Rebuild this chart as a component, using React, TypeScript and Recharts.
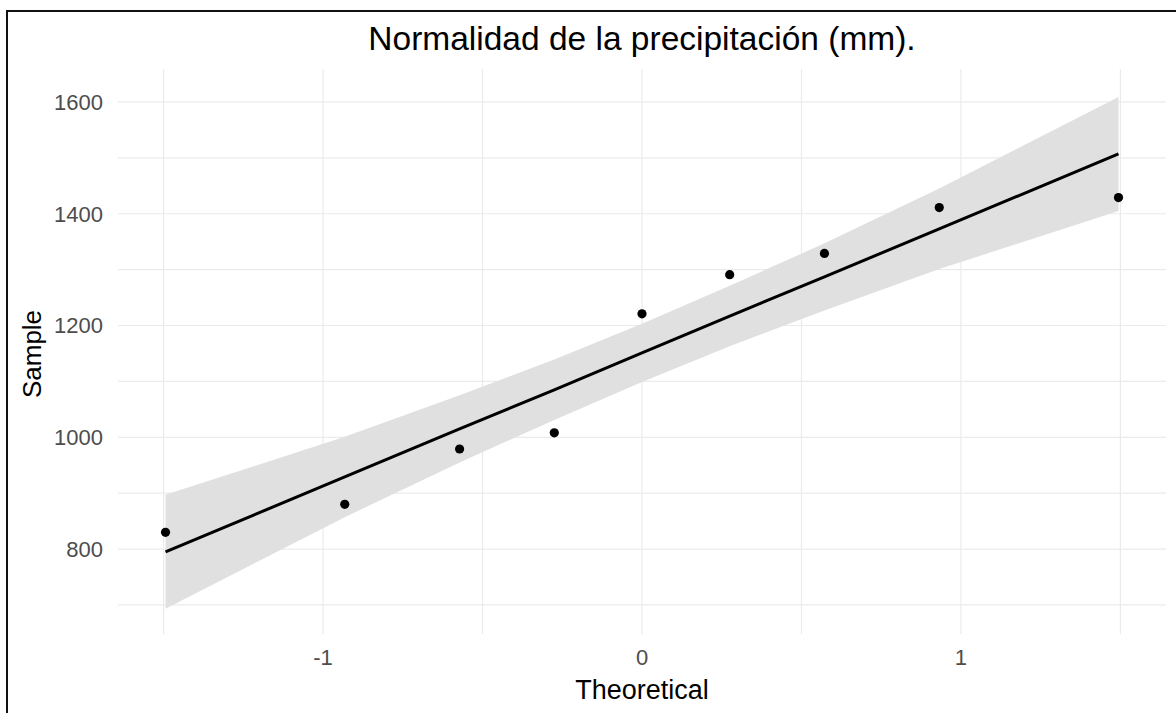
import React from 'react';
import { ComposedChart, Area, Line, Scatter, XAxis, YAxis, CartesianGrid } from 'recharts';

// theoretical normal quantiles (n = 9) and the observed precipitation
const theoretical = [-1.494, -0.932, -0.572, -0.275, 0, 0.275, 0.572, 0.932, 1.494];
const sample = [830, 880, 979, 1008, 1221, 1291, 1329, 1411, 1429];
// reference line and confidence band
const fitted = [795, 929, 1015, 1085, 1151, 1217, 1287, 1373, 1507];
const bandLow = [693, 857, 955, 1031, 1099, 1163, 1227, 1301, 1405];
const bandHigh = [897, 1001, 1075, 1139, 1203, 1271, 1347, 1445, 1609];

const xTicks = [-1.5, -1, -0.5, 0, 0.5, 1, 1.5];
const xLabels = [-1, 0, 1];
const yTicks = [700, 800, 900, 1000, 1100, 1200, 1300, 1400, 1500, 1600];
const yLabels = [800, 1000, 1200, 1400, 1600];

const xDomain = [-1.643, 1.643];
const yDomain = [648, 1659];

const data = theoretical.map((z, i) => ({
  z,
  sample: sample[i],
  fit: fitted[i],
  band: [bandLow[i], bandHigh[i]],
}));

const font = '"Liberation Sans", Arial, sans-serif';
const tickStyle = { fontSize: 22, fill: '#4d4d4d', fontFamily: font };

const Dot = (props: any) => <circle cx={props.cx} cy={props.cy} r={4.6} fill="#000" />;

// grid only at the tick values (no lines on the panel edges)
const hGrid = ({ offset }: any) =>
  yTicks.map((t) => offset.top + ((yDomain[1] - t) / (yDomain[1] - yDomain[0])) * offset.height);
const vGrid = ({ offset }: any) =>
  xTicks.map((t) => offset.left + ((t - xDomain[0]) / (xDomain[1] - xDomain[0])) * offset.width);

const App = () => {
  return (
    <div style={{ position: 'absolute', left: 0, top: 0, width: 1176, height: 713, background: '#fff', overflow: 'hidden' }}>
      <ComposedChart
        width={1176}
        height={713}
        data={data}
        margin={{ top: 69, right: 10, left: 0, bottom: 0 }}
      >
        <CartesianGrid
          stroke="#ebebeb"
          strokeWidth={1.2}
          horizontalCoordinatesGenerator={hGrid}
          verticalCoordinatesGenerator={vGrid}
        />
        <XAxis
          dataKey="z"
          type="number"
          domain={xDomain}
          ticks={xTicks}
          allowDataOverflow
          axisLine={false}
          tickLine={false}
          tickSize={0}
          tickMargin={15}
          height={79}
          tick={tickStyle}
          tickFormatter={(v: number) => (xLabels.includes(v) ? String(v) : '')}
        />
        <YAxis
          type="number"
          domain={yDomain}
          ticks={yTicks}
          allowDataOverflow
          axisLine={false}
          tickLine={false}
          tickSize={0}
          tickMargin={15}
          width={118}
          tick={tickStyle}
          tickFormatter={(v: number) => (yLabels.includes(v) ? String(v) : '')}
        />
        <Area
          dataKey="band"
          type="linear"
          fill="#e0e0e0"
          fillOpacity={1}
          stroke="none"
          isAnimationActive={false}
        />
        <Line
          dataKey="fit"
          type="linear"
          stroke="#000"
          strokeWidth={3}
          dot={false}
          activeDot={false}
          isAnimationActive={false}
        />
        <Scatter dataKey="sample" fill="#000" shape={Dot} isAnimationActive={false} />
      </ComposedChart>
      <svg
        width={1176}
        height={713}
        style={{ position: 'absolute', left: 0, top: 0, pointerEvents: 'none' }}
      >
        <text x={642} y={50} textAnchor="middle" fontSize={33.5} fontFamily={font} fill="#000">
          Normalidad de la precipitación (mm).
        </text>
        <text x={642} y={699} textAnchor="middle" fontSize={27} fontFamily={font} fill="#000">
          Theoretical
        </text>
        <text
          x={41}
          y={354}
          textAnchor="middle"
          fontSize={26}
          fontFamily={font}
          fill="#000"
          transform="rotate(-90 41 354)"
        >
          Sample
        </text>
      </svg>
      <div
        style={{
          position: 'absolute',
          left: 6,
          top: 10,
          width: 1170,
          height: 703,
          borderTop: '2px solid #111',
          borderLeft: '2px solid #111',
          pointerEvents: 'none',
        }}
      />
    </div>
  );
};

export default App;
